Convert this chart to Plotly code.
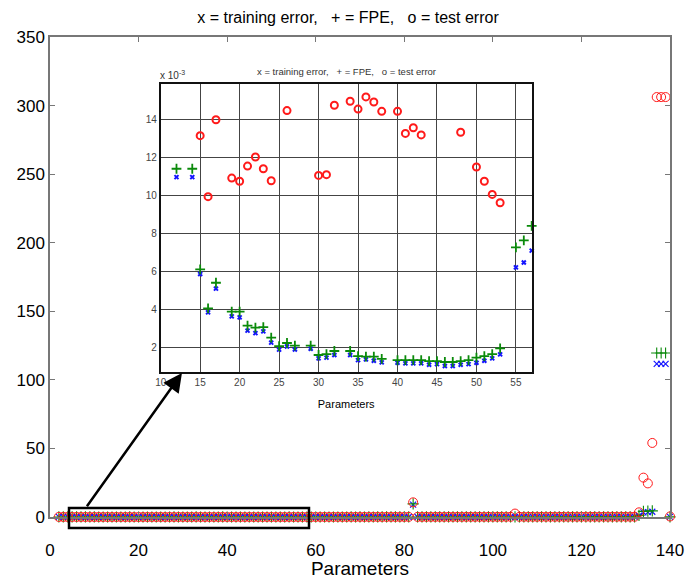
import plotly.graph_objects as go

# ---------------- data ----------------
params = list(range(2, 141))

train_a = [0.0452, 0.0398, 0.0351, 0.0310, 0.0276, 0.0241, 0.0213, 0.0198, 0.0178, 0.0163]
fpe_a   = [0.0466, 0.0413, 0.0366, 0.0326, 0.0292, 0.0257, 0.0229, 0.0209, 0.0186, 0.0170]
test_a  = [0.0481, 0.0430, 0.0389, 0.0352, 0.0321, 0.0294, 0.0268, 0.0247, 0.0229, 0.0211]

# x = 12 .. 57
train_b = [0.01096, 0.0166, 0.01096, 0.00586, 0.00384, 0.00509, 0.0182, 0.00363, 0.00358, 0.00288,
           0.00275, 0.00284, 0.00225, 0.00188, 0.00205, 0.00189, 0.0171, 0.00193, 0.00142, 0.00146,
           0.00160, 0.0168, 0.00160, 0.00133, 0.00137, 0.00130, 0.00121, 0.0175, 0.00119, 0.00116,
           0.00116, 0.00116, 0.00109, 0.00112, 0.00102, 0.00102, 0.00109, 0.00112, 0.00119, 0.00130,
           0.00142, 0.00163, 0.0188, 0.00621, 0.00647, 0.00709]
fpe_b   = [0.01140, 0.0173, 0.01140, 0.00611, 0.00405, 0.00540, 0.0194, 0.00388, 0.00388, 0.00314,
           0.00304, 0.00307, 0.00251, 0.00207, 0.00223, 0.00209, 0.0186, 0.00209, 0.00160, 0.00165,
           0.00181, 0.0185, 0.00181, 0.00154, 0.00151, 0.00151, 0.00139, 0.0193, 0.00133, 0.00133,
           0.00133, 0.00133, 0.00128, 0.00128, 0.00123, 0.00123, 0.00128, 0.00133, 0.00146, 0.00154,
           0.00165, 0.00195, 0.0207, 0.00726, 0.00763, 0.00839]
test_b  = [0.0171, 0.0195, 0.0168, 0.01314, 0.00993, 0.01398, 0.0236, 0.01091, 0.01074, 0.01154,
           0.01202, 0.01140, 0.01077, 0.0172, 0.01446, 0.0183, 0.0254, 0.0191, 0.01105, 0.01109,
           0.01474, 0.0262, 0.01495, 0.01454, 0.01518, 0.01491, 0.01442, 0.0287, 0.01442, 0.01326,
           0.01356, 0.01318, 0.0176, 0.0184, 0.0169, 0.0178, 0.01332, 0.0193, 0.01149, 0.01074,
           0.01005, 0.00961, 0.0296, 0.0214, 0.0225, 0.0241]

# x = 58 .. 81
train_c = [0.0081, 0.0092, 0.0105, 0.0088, 0.0121, 0.0097, 0.0135, 0.0110, 0.0142, 0.0126, 0.0153, 0.0118,
           0.0161, 0.0139, 0.0172, 0.0148, 0.0185, 0.0157, 0.0193, 0.0166, 0.0204, 0.0178, 0.0215, 0.0189]
fpe_c   = [0.0095, 0.0108, 0.0123, 0.0104, 0.0142, 0.0115, 0.0160, 0.0131, 0.0169, 0.0151, 0.0184, 0.0142,
           0.0195, 0.0168, 0.0209, 0.0181, 0.0227, 0.0193, 0.0238, 0.0205, 0.0253, 0.0221, 0.0268, 0.0236]
test_c  = [0.0312, 0.0287, 0.0365, 0.0402, 0.0338, 0.0451, 0.0392, 0.0487, 0.0426, 0.0533, 0.0471, 0.0562,
           0.0509, 0.0598, 0.0544, 0.0631, 0.0577, 0.0672, 0.0612, 0.0705, 0.0648, 0.0741, 0.0683, 0.0776]

# x = 82
train_d, fpe_d, test_d = [9.0], [9.6], [10.7]

# x = 83 .. 104
train_e = [0.0221, 0.0198, 0.0234, 0.0207, 0.0246, 0.0219, 0.0258, 0.0231, 0.0270, 0.0243, 0.0282,
           0.0255, 0.0294, 0.0267, 0.0306, 0.0279, 0.0318, 0.0291, 0.0330, 0.0303, 0.0342, 0.0315]
fpe_e   = [0.0279, 0.0251, 0.0297, 0.0263, 0.0314, 0.0280, 0.0331, 0.0297, 0.0349, 0.0314, 0.0366,
           0.0332, 0.0384, 0.0349, 0.0402, 0.0367, 0.0420, 0.0385, 0.0438, 0.0403, 0.0457, 0.0421]
test_e  = [0.0812, 0.0855, 0.0793, 0.0901, 0.0874, 0.0948, 0.0912, 0.0995, 0.0961, 0.1042, 0.1008,
           0.1089, 0.1055, 0.1136, 0.1102, 0.1183, 0.1149, 0.1230, 0.1196, 0.1277, 0.1243, 0.1324]

# x = 105
train_f, fpe_f, test_f = [0.031], [0.042], [2.5]

# x = 106 .. 132
train_g = [0.0352, 0.0327, 0.0365, 0.0339, 0.0378, 0.0351, 0.0391, 0.0363, 0.0404, 0.0375, 0.0417,
           0.0387, 0.0430, 0.0399, 0.0443, 0.0411, 0.0456, 0.0423, 0.0469, 0.0435, 0.0482, 0.0447,
           0.0495, 0.0459, 0.0508, 0.0471, 0.0521]
fpe_g   = [0.0471, 0.0440, 0.0491, 0.0457, 0.0511, 0.0475, 0.0531, 0.0493, 0.0552, 0.0511, 0.0572,
           0.0530, 0.0593, 0.0549, 0.0614, 0.0568, 0.0636, 0.0587, 0.0657, 0.0607, 0.0679, 0.0626,
           0.0701, 0.0646, 0.0724, 0.0666, 0.0746]
test_g  = [0.1371, 0.1418, 0.1394, 0.1465, 0.1441, 0.1512, 0.1488, 0.1559, 0.1535, 0.1606, 0.1582,
           0.1653, 0.1629, 0.1700, 0.1676, 0.1747, 0.1723, 0.1794, 0.1770, 0.1841, 0.1817, 0.1888,
           0.1864, 0.1935, 0.1911, 0.1982, 0.1958]

# x = 133 .. 140
train_h = [0.9, 3.4, 3.6, 3.8, 111.6, 111.6, 111.6, 0.05]
fpe_h   = [1.2, 4.1, 4.3, 4.5, 119.6, 119.6, 119.6, 0.06]
test_h  = [3.4, 28.7, 24.5, 54.0, 306.2, 306.2, 306.2, 0.4]

train_err = train_a + train_b + train_c + train_d + train_e + train_f + train_g + train_h
fpe = fpe_a + fpe_b + fpe_c + fpe_d + fpe_e + fpe_f + fpe_g + fpe_h
test_err = test_a + test_b + test_c + test_d + test_e + test_f + test_g + test_h

main_xticks = [0, 20, 40, 60, 80, 100, 120, 140]
main_yticks = [0, 50, 100, 150, 200, 250, 300, 350]
inset_xticks = [10, 15, 20, 25, 30, 35, 40, 45, 50, 55]
inset_yticks = [0.002, 0.004, 0.006, 0.008, 0.010, 0.012, 0.014]
inset_yticktext = ["2", "4", "6", "8", "10", "12", "14"]

title_text = "x = training error,   + = FPE,   o = test error"

# ---------------- figure ----------------
FONT = "Arial, Liberation Sans, sans-serif"
RED, GREEN, BLUE = "#ff1a1a", "#0a8a0a", "#1414ff"

INSET_X = [10, 57]
INSET_Y = [0.00072, 0.01586]


def in_inset(xs, ys):
    px, py = [], []
    for a, b in zip(xs, ys):
        if INSET_X[0] <= a <= INSET_X[1] and INSET_Y[0] <= b <= INSET_Y[1]:
            px.append(a)
            py.append(b)
    return px, py


fig = go.Figure()

# main chart
fig.add_trace(go.Scatter(x=params, y=train_err, mode="markers", cliponaxis=False,
                         marker=dict(symbol="x-thin-open", size=6, color=BLUE,
                                     line=dict(width=1.2, color=BLUE)),
                         xaxis="x", yaxis="y", showlegend=False))
fig.add_trace(go.Scatter(x=params, y=fpe, mode="markers", cliponaxis=False,
                         marker=dict(symbol="cross-thin-open", size=8, color=GREEN,
                                     line=dict(width=1.1, color=GREEN)),
                         xaxis="x", yaxis="y", showlegend=False))
fig.add_trace(go.Scatter(x=params, y=test_err, mode="markers", cliponaxis=False,
                         marker=dict(symbol="circle-open", size=9, color=RED,
                                     line=dict(width=1, color=RED)),
                         xaxis="x", yaxis="y", showlegend=False))

# inset
ix, iy = in_inset(params, train_err)
fig.add_trace(go.Scatter(x=ix, y=iy, mode="markers", cliponaxis=False,
                         marker=dict(symbol="x-thin-open", size=4, color=BLUE,
                                     line=dict(width=2, color=BLUE)),
                         xaxis="x2", yaxis="y2", showlegend=False))
ix, iy = in_inset(params, fpe)
fig.add_trace(go.Scatter(x=ix, y=iy, mode="markers", cliponaxis=False,
                         marker=dict(symbol="cross-thin-open", size=7, color=GREEN,
                                     line=dict(width=1.8, color=GREEN)),
                         xaxis="x2", yaxis="y2", showlegend=False))
ix, iy = in_inset(params, test_err)
fig.add_trace(go.Scatter(x=ix, y=iy, mode="markers", cliponaxis=False,
                         marker=dict(symbol="circle-open", size=7, color=RED,
                                     line=dict(width=2, color=RED)),
                         xaxis="x2", yaxis="y2", showlegend=False))

# pixel layout: plot area x 50..670, y 37..517
W, H = 696, 579
L, R, T, B = 50, 26, 37, 62
pw, ph = W - L - R, H - T - B


def px_to_paper_x(p):
    return (p - L) / pw


def px_to_paper_y(p):
    return (H - B - p) / ph


fig.update_layout(
    width=W, height=H,
    margin=dict(l=L, r=R, t=T, b=B, pad=0, autoexpand=False),
    paper_bgcolor="white", plot_bgcolor="white",
    font=dict(family=FONT, color="#000"),
    title=dict(text=title_text, x=0.5, xanchor="center", y=1 - 17 / H, yanchor="middle",
               font=dict(size=16, color="#000")),
    xaxis=dict(domain=[0, 1], range=[0, 140], tickvals=main_xticks, ticks="inside", ticklen=5,
               tickcolor="#777", showline=True, linecolor="#777", linewidth=1.5, mirror="ticks",
               showgrid=False, zeroline=False, tickfont=dict(size=17), ticklabelstandoff=17,
               automargin=False,
               title=dict(text="Parameters", font=dict(size=19), standoff=0), anchor="y"),
    yaxis=dict(domain=[0, 1], range=[0, 350], tickvals=main_yticks, ticks="inside", ticklen=5,
               tickcolor="#777", showline=True, linecolor="#777", linewidth=1.5, mirror="ticks",
               showgrid=False, zeroline=False, tickfont=dict(size=17), anchor="x",
               automargin=False),
    xaxis2=dict(domain=[px_to_paper_x(160.7), px_to_paper_x(531.7)], range=INSET_X,
                tickvals=inset_xticks, ticks="", showline=True, linecolor="#111", linewidth=1.6,
                mirror=True, showgrid=True, gridcolor="#444", gridwidth=1.4, zeroline=False,
                tickfont=dict(size=10, color="#444"), anchor="y2", automargin=False,
                title=dict(text="Parameters", font=dict(size=11), standoff=14)),
    yaxis2=dict(domain=[px_to_paper_y(371.7), px_to_paper_y(84)], range=INSET_Y,
                tickvals=inset_yticks, ticktext=inset_yticktext, ticks="", showline=True,
                linecolor="#111", linewidth=1.6, mirror=True, showgrid=True, gridcolor="#444",
                gridwidth=1.4, zeroline=False, tickfont=dict(size=10, color="#444"), anchor="x2",
                automargin=False),
)

# inset title and exponent label
fig.add_annotation(text=title_text.replace("   ", "&nbsp;&nbsp; "), xref="paper", yref="paper",
                   x=px_to_paper_x(346), y=px_to_paper_y(72), showarrow=False,
                   font=dict(size=9.5, color="#333"), xanchor="center", yanchor="middle")
fig.add_annotation(text="x 10<sup>-3</sup>", xref="paper", yref="paper",
                   x=px_to_paper_x(158), y=px_to_paper_y(75), showarrow=False,
                   font=dict(size=10, color="#333"), xanchor="left", yanchor="middle")

# zoom rectangle
fig.add_shape(type="rect", xref="paper", yref="paper",
              x0=px_to_paper_x(69), x1=px_to_paper_x(309),
              y0=px_to_paper_y(528), y1=px_to_paper_y(508),
              line=dict(color="#000", width=2.5), fillcolor="rgba(0,0,0,0)", layer="above")

# arrow
fig.add_annotation(x=29.8, y=105, ax=8.1, ay=6.8, xref="x", yref="y", axref="x", ayref="y",
                   text="", showarrow=True, arrowhead=2, arrowsize=1.5, arrowwidth=2.5,
                   arrowcolor="#000")

fig.write_html("out.html")
